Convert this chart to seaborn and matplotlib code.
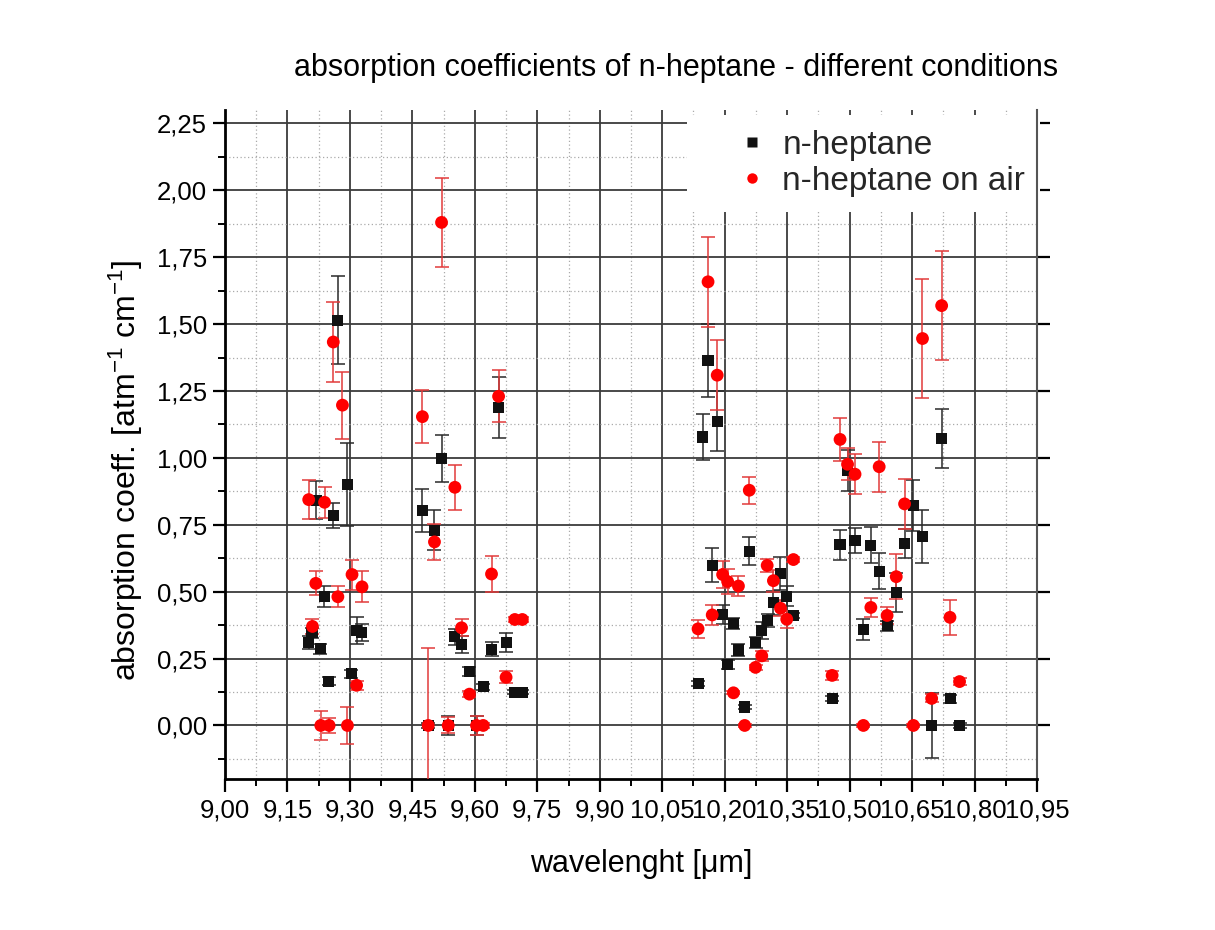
import numpy as np
import pandas as pd
import matplotlib
matplotlib.use("Agg")
import matplotlib.pyplot as plt
from matplotlib.ticker import MultipleLocator, FuncFormatter
from matplotlib.lines import Line2D
import seaborn as sns

# ---------------- data ----------------
heptane_x = [9.201, 9.209, 9.219, 9.229, 9.238, 9.249, 9.260, 9.271, 9.294, 9.303, 9.316, 9.328,
             9.474, 9.488, 9.503, 9.520, 9.536, 9.552, 9.568, 9.587, 9.604, 9.620, 9.640, 9.657,
             9.675, 9.695, 9.714,
             10.137, 10.147, 10.160, 10.170, 10.182, 10.195, 10.207, 10.221, 10.233, 10.248,
             10.259, 10.274, 10.289, 10.303, 10.317, 10.334, 10.349, 10.365,
             10.458, 10.477, 10.495, 10.513, 10.533, 10.551, 10.571, 10.590, 10.612, 10.632,
             10.653, 10.675, 10.697, 10.721, 10.742, 10.764]
heptane_y = [0.311, 0.346, 0.842, 0.286, 0.481, 0.165, 0.785, 1.514, 0.899, 0.193, 0.355, 0.348,
             0.802, 0.0, 0.730, 0.997, 0.0, 0.331, 0.301, 0.202, 0.0, 0.144, 0.285, 1.189,
             0.310, 0.124, 0.124,
             0.157, 1.078, 1.365, 0.599, 1.137, 0.415, 0.228, 0.381, 0.282, 0.069,
             0.651, 0.311, 0.355, 0.392, 0.458, 0.567, 0.483, 0.412,
             0.100, 0.676, 0.954, 0.692, 0.358, 0.674, 0.576, 0.372, 0.497, 0.680,
             0.821, 0.707, 0.0, 1.073, 0.100, 0.0]
heptane_err = [0.024, 0.020, 0.070, 0.018, 0.040, 0.015, 0.048, 0.165, 0.155, 0.016, 0.050, 0.032,
               0.080, 0.010, 0.074, 0.087, 0.037, 0.030, 0.032, 0.018, 0.037, 0.010, 0.027, 0.115,
               0.037, 0.008, 0.008,
               0.010, 0.086, 0.137, 0.063, 0.113, 0.036, 0.018, 0.021, 0.023, 0.008,
               0.052, 0.020, 0.031, 0.025, 0.044, 0.062, 0.038, 0.010,
               0.010, 0.056, 0.076, 0.047, 0.039, 0.066, 0.067, 0.019, 0.072, 0.053,
               0.096, 0.100, 0.121, 0.110, 0.015, 0.010]

air_x = [9.201, 9.210, 9.218, 9.230, 9.239, 9.250, 9.260, 9.271, 9.282, 9.294, 9.305, 9.316, 9.329,
         9.474, 9.488, 9.503, 9.520, 9.536, 9.552, 9.568, 9.587, 9.604, 9.620, 9.640, 9.657,
         9.675, 9.696, 9.714,
         10.136, 10.160, 10.170, 10.182, 10.195, 10.207, 10.221, 10.233, 10.248, 10.259,
         10.274, 10.289, 10.302, 10.317, 10.334, 10.349, 10.365,
         10.458, 10.477, 10.495, 10.513, 10.533, 10.551, 10.571, 10.590, 10.612, 10.632,
         10.653, 10.675, 10.697, 10.721, 10.741, 10.764]
air_y = [0.844, 0.370, 0.531, 0.0, 0.834, 0.0, 1.433, 0.481, 1.197, 0.0, 0.564, 0.150, 0.518,
         1.154, 0.0, 0.686, 1.880, 0.0, 0.890, 0.365, 0.117, 0.0, 0.0, 0.566, 1.230,
         0.180, 0.396, 0.396,
         0.361, 1.658, 0.413, 1.309, 0.564, 0.538, 0.122, 0.521, 0.0, 0.879,
         0.217, 0.260, 0.598, 0.541, 0.438, 0.397, 0.620,
         0.187, 1.069, 0.976, 0.939, 0.0, 0.441, 0.967, 0.411, 0.556, 0.828,
         0.0, 1.446, 0.101, 1.569, 0.404, 0.164]
air_err = [0.073, 0.028, 0.045, 0.053, 0.057, 0.028, 0.150, 0.040, 0.125, 0.068, 0.056, 0.017, 0.058,
           0.100, 0.290, 0.067, 0.165, 0.030, 0.084, 0.032, 0.010, 0.037, 0.010, 0.068, 0.097,
           0.022, 0.010, 0.010,
           0.034, 0.168, 0.038, 0.130, 0.050, 0.045, 0.006, 0.038, 0.006, 0.050,
           0.010, 0.019, 0.025, 0.041, 0.029, 0.032, 0.010,
           0.017, 0.080, 0.060, 0.075, 0.005, 0.035, 0.094, 0.031, 0.083, 0.094,
           0.005, 0.223, 0.015, 0.204, 0.066, 0.012]

series_names = ["n-heptane", "n-heptane on air"]
title_text = "absorption coefficients of n-heptane - different conditions"
xlabel_text = "wavelenght [\u03bcm]"
ylabel_text = "absorption coeff. [atm$^{-1}$ cm$^{-1}$]"

df_hep = pd.DataFrame({"x": heptane_x, "y": heptane_y, "err": heptane_err})
df_air = pd.DataFrame({"x": air_x, "y": air_y, "err": air_err})

# ---------------- style ----------------
sns.set_theme(style="white")
plt.rcParams["font.family"] = ["Liberation Sans", "DejaVu Sans"]
plt.rcParams["mathtext.fontset"] = "custom"
plt.rcParams["mathtext.rm"] = "Liberation Sans"
plt.rcParams["mathtext.it"] = "Liberation Sans:italic"

fig = plt.figure(figsize=(12.15, 9.3), dpi=100)
ax = fig.add_axes([0.1852, 0.1624, 0.6683, 0.7193])

BLACK = "#111111"
RED = "#ff0000"
RED_ERR = "#e23a3a"

# error bars
ax.errorbar(df_hep["x"], df_hep["y"], yerr=df_hep["err"], fmt="none",
            ecolor="#2a2a2a", elinewidth=1.1, capsize=5, capthick=1.1, zorder=3)
ax.errorbar(df_air["x"], df_air["y"], yerr=df_air["err"], fmt="none",
            ecolor=RED_ERR, elinewidth=1.1, capsize=5, capthick=1.1, zorder=3)

# markers
sns.scatterplot(data=df_hep, x="x", y="y", marker="s", s=64, color=BLACK,
                edgecolor="none", linewidth=0, ax=ax, zorder=4, legend=False)
sns.scatterplot(data=df_air, x="x", y="y", marker="o", s=85, color=RED,
                edgecolor="none", linewidth=0, ax=ax, zorder=5, legend=False)

# axes limits and ticks
ax.set_xlim(9.0, 10.95)
ax.set_ylim(-0.2, 2.30)
ax.xaxis.set_major_locator(MultipleLocator(0.15))
ax.xaxis.set_minor_locator(MultipleLocator(0.075))
ax.yaxis.set_major_locator(MultipleLocator(0.25))
ax.yaxis.set_minor_locator(MultipleLocator(0.125))
comma = FuncFormatter(lambda v, p: f"{v:.2f}".replace(".", ","))
ax.xaxis.set_major_formatter(comma)
ax.yaxis.set_major_formatter(comma)

ax.grid(which="major", color="#3c3c3c", linestyle="-", linewidth=1.3, zorder=0)
ax.grid(which="minor", color="#aaaaaa", linestyle=(0, (1, 2)), linewidth=0.9, zorder=0)
ax.set_axisbelow(True)

ax.spines["top"].set_visible(False)
ax.spines["left"].set_linewidth(2.0)
ax.spines["bottom"].set_linewidth(2.0)
ax.spines["left"].set_color("black")
ax.spines["bottom"].set_color("black")
ax.spines["right"].set_linewidth(1.5)
ax.spines["right"].set_color("#555555")

ax.tick_params(axis="both", which="major", direction="out", length=9, width=1.6,
               color="black", labelsize=18.5, labelcolor="black")
ax.tick_params(axis="both", which="minor", direction="out", length=5, width=1.4, color="black")
ax.tick_params(axis="x", which="major", pad=5, bottom=True)
ax.tick_params(axis="x", which="minor", bottom=True)
ax.tick_params(axis="y", which="major", pad=4, left=True, right=True)
ax.tick_params(axis="y", which="minor", left=True, right=False)
ax.set_xlabel("")
ax.set_ylabel("")

# legend
handles = [
    Line2D([0], [0], marker="s", color="none", markerfacecolor=BLACK, markeredgecolor="none",
           markersize=7, label=series_names[0]),
    Line2D([0], [0], marker="o", color="none", markerfacecolor=RED, markeredgecolor="none",
           markersize=7.5, label=series_names[1]),
]
leg = ax.legend(handles=handles, loc="upper right", bbox_to_anchor=(1.008, 0.998),
                fontsize=24, frameon=True, facecolor="white", edgecolor="none",
                framealpha=1.0, handlelength=3.0, handletextpad=-0.6,
                borderpad=0.45, labelspacing=0.15, borderaxespad=0.1)
leg.set_zorder(2.4)

# texts
fig.text(676 / 1215, 1 - 68 / 930, title_text, ha="center", va="center", fontsize=22, color="black")
fig.text(641 / 1215, 1 - 864 / 930, xlabel_text, ha="center", va="center", fontsize=22, color="black")
fig.text(126 / 1215, 1 - 470 / 930, ylabel_text, ha="center", va="center", rotation=90,
         fontsize=23, color="black")

fig.savefig("out.png", dpi=100, facecolor="white")
